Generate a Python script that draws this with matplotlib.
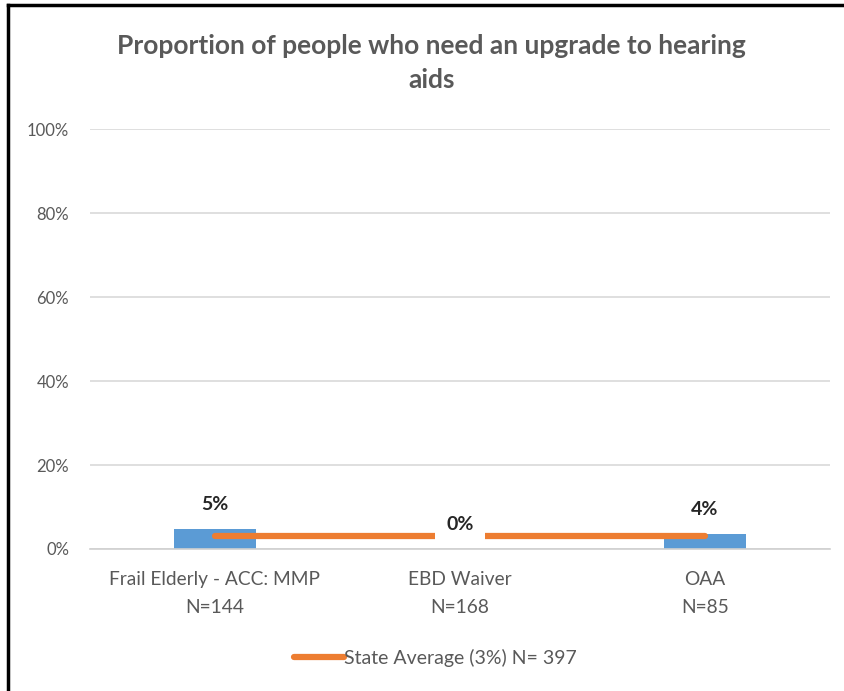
#!/usr/bin/env python3
'''
Proportion of people who need an upgrade to hearing aids.
'''

import numpy as np
import matplotlib
matplotlib.use('Agg')
import matplotlib.pyplot as pl
from matplotlib.lines import Line2D
from matplotlib.ticker import PercentFormatter

programs=['Frail Elderly - ACC: MMP', 'EBD Waiver', 'OAA']
counts=[144, 168, 85]
shares=[0.048, 0.0, 0.035]
share_labels=['5%', '0%', '4%']
state_avg=0.03
state_n=397

pl.rcParams['font.family']=['Lato', 'DejaVu Sans']
grey='#595959'

fig=pl.figure(figsize=(8.45,6.91), dpi=100)
ax=fig.add_axes([0.1065, 0.2055, 0.8755, 0.6078])

x=np.arange(len(programs))
ax.bar(x, shares, width=0.335, color='#5b9bd5', zorder=2)
ax.plot(x, [state_avg]*len(x), color='#ed7d31', lw=4.5, solid_capstyle='round', zorder=3)

for xi,v,lab in zip(x,shares,share_labels):
    box=dict(facecolor='white', edgecolor='none', pad=8) if v==0 else None
    ax.text(xi, v+0.058, lab, ha='center', va='center', fontsize=14, fontweight='bold',
            color='#262626', zorder=4, bbox=box)

ax.set_ylim(0,1)
ax.set_xlim(-0.51,2.51)
ax.set_yticks(np.arange(0,1.01,0.2))
ax.yaxis.set_major_formatter(PercentFormatter(1.0, decimals=0))
ax.set_xticks(x)
ax.set_xticklabels([f'{p}\nN={n}' for p,n in zip(programs,counts)], linespacing=1.75)
ax.tick_params(axis='both', length=0, colors=grey)
ax.tick_params(axis='x', pad=16, labelsize=13.8)
ax.tick_params(axis='y', pad=15, labelsize=12)
ax.grid(axis='y', color='#d9d9d9', lw=1.2, zorder=0)
for s in ['top','right','left']:
    ax.spines[s].set_visible(False)
ax.spines['bottom'].set_color('#d0d0d0')
ax.spines['bottom'].set_linewidth(1.2)

fig.text(0.511, 0.934, 'Proportion of people who need an upgrade to hearing', ha='center',
         va='center', fontsize=19, fontweight='bold', color=grey)
fig.text(0.511, 0.884, 'aids', ha='center', va='center', fontsize=19, fontweight='bold', color=grey)

handle=Line2D([], [], color='#ed7d31', lw=4.5, solid_capstyle='round')
fig.legend([handle], [f'State Average ({state_avg:.0%}) N= {state_n}'], loc='center',
           bbox_to_anchor=(0.515, 0.048), frameon=False, fontsize=14, labelcolor=grey,
           handlelength=2.6, handletextpad=0.0)

# frame of the screenshot
fig.add_artist(Line2D([0.0095,0.0095], [0,0.993], color='black', lw=2.5, transform=fig.transFigure))
fig.add_artist(Line2D([0.0095,1], [0.993,0.993], color='black', lw=2.5, transform=fig.transFigure))

pl.savefig('out.png', dpi=100)
